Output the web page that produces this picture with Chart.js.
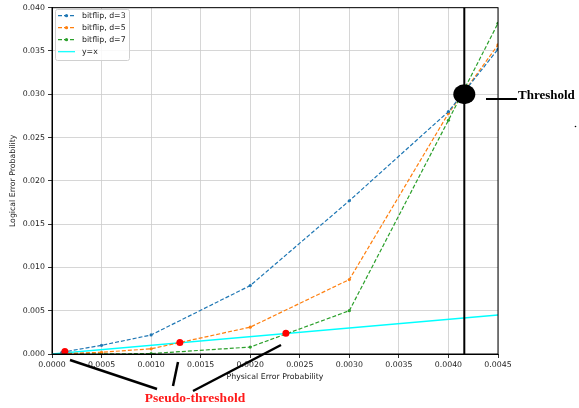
<!DOCTYPE html>
<html>
<head>
<meta charset="utf-8">
<script src="https://cdn.jsdelivr.net/npm/chart.js@4.4.1/dist/chart.umd.min.js"></script>
<style>
  html, body { margin: 0; padding: 0; background: #fff; }
  #wrap { width: 579px; height: 408px; }
</style>
</head>
<body>
<div id="wrap"><canvas id="myChart" width="579" height="408"></canvas></div>
<script>
'use strict';

// chart data

let physicalProbs = [0.0001, 0.0005, 0.001, 0.002, 0.003, 0.004, 0.0045];
let d3Rates = [0.0002, 0.0010, 0.0022, 0.0079, 0.0177, 0.0280, 0.0352];
let d5Rates = [0.00003, 0.0002, 0.0006, 0.0031, 0.0086, 0.0278, 0.0357];
let d7Rates = [0.0, 0.00001, 0.00005, 0.0008, 0.0050, 0.0270, 0.0382];
let identityX = [0, 0.0045];
let seriesNames = ['bitflip, d=3', 'bitflip, d=5', 'bitflip, d=7', 'y=x'];
let seriesColors = ['#1f77b4', '#ff7f0e', '#2ca02c', '#00ffff'];

let pseudoX = [0.00013, 0.00129, 0.00236];
let pseudoY = [0.0003, 0.00134, 0.0024];
let thresholdX = 0.00416;
let thresholdY = 0.0300;

let xTicks = [0, 0.0005, 0.001, 0.0015, 0.002, 0.0025, 0.003, 0.0035, 0.004, 0.0045];
let yTicks = [0, 0.005, 0.01, 0.015, 0.02, 0.025, 0.03, 0.035, 0.04];

let tickFont = { family: 'DejaVu Sans', size: 7.8 };

function toPoints(xs, ys) {
  return xs.map(function (x, i) { return { x: x, y: ys[i] }; });
}

function dashedSeries(i, ys) {
  return {
    label: seriesNames[i],
    data: toPoints(physicalProbs, ys),
    borderColor: seriesColors[i],
    backgroundColor: seriesColors[i],
    borderWidth: 1.2,
    borderDash: [4, 2],
    pointRadius: 1.6,
    pointBorderWidth: 0,
    showLine: true
  };
}

// annotations drawn on top (frame, legend, threshold marks)
let annotations = {
  id: 'annotations',
  afterDraw: function (chart) {
    let ctx = chart.ctx;
    let area = chart.chartArea;
    let xs = chart.scales.x;
    let ys = chart.scales.y;
    ctx.save();

    // frame
    ctx.strokeStyle = '#000';
    ctx.lineWidth = 1;
    ctx.strokeRect(area.left, area.top, area.right - area.left, area.bottom - area.top);

    // legend
    ctx.fillStyle = 'rgba(255,255,255,0.85)';
    ctx.strokeStyle = '#d0d0d0';
    ctx.lineWidth = 1;
    ctx.beginPath();
    ctx.roundRect(55.5, 9.5, 74, 51, 2);
    ctx.fill();
    ctx.stroke();
    ctx.font = '7.8px "DejaVu Sans"';
    ctx.textBaseline = 'middle';
    for (let i = 0; i < seriesNames.length; i++) {
      let ly = 15.7 + i * 12;
      ctx.strokeStyle = seriesColors[i];
      ctx.lineWidth = 1.2;
      ctx.setLineDash(i < 3 ? [4, 2] : []);
      ctx.beginPath();
      ctx.moveTo(58, ly);
      ctx.lineTo(75, ly);
      ctx.stroke();
      ctx.setLineDash([]);
      if (i < 3) {
        ctx.fillStyle = seriesColors[i];
        ctx.beginPath();
        ctx.arc(66.5, ly, 1.6, 0, Math.PI * 2);
        ctx.fill();
      }
      ctx.fillStyle = '#222';
      ctx.fillText(seriesNames[i], 82, ly);
    }

    // threshold
    let tx = xs.getPixelForValue(thresholdX);
    let ty = ys.getPixelForValue(thresholdY);
    ctx.strokeStyle = '#000';
    ctx.lineWidth = 2;
    ctx.beginPath();
    ctx.moveTo(tx, area.top);
    ctx.lineTo(tx, area.bottom);
    ctx.stroke();
    ctx.fillStyle = '#000';
    ctx.beginPath();
    ctx.ellipse(tx, ty, 11, 10, 0, 0, Math.PI * 2);
    ctx.fill();
    ctx.beginPath();
    ctx.moveTo(486, 99);
    ctx.lineTo(517, 99);
    ctx.stroke();
    ctx.font = 'bold 13px "Liberation Serif"';
    ctx.textBaseline = 'middle';
    ctx.fillText('Threshold', 518, 96);
    ctx.beginPath();
    ctx.arc(575.5, 126.5, 0.8, 0, Math.PI * 2);
    ctx.fill();

    // pseudo-threshold pointers
    ctx.lineWidth = 2.5;
    let pointers = [[70, 360, 157, 389], [178, 362, 173, 386], [281, 345, 193, 391]];
    pointers.forEach(function (p) {
      ctx.beginPath();
      ctx.moveTo(p[0], p[1]);
      ctx.lineTo(p[2], p[3]);
      ctx.stroke();
    });
    ctx.fillStyle = '#ff1a1a';
    ctx.font = 'bold 13.5px "Liberation Serif"';
    ctx.textAlign = 'center';
    ctx.fillText('Pseudo-threshold', 195, 399);

    ctx.restore();
  }
};

function renderChart() {
  const ctx = document.getElementById('myChart').getContext('2d');

  new Chart(ctx, {
    type: 'scatter',
    data: {
      datasets: [
        {
          label: 'pseudo',
          data: toPoints(pseudoX, pseudoY),
          backgroundColor: '#ff0000',
          borderWidth: 0,
          pointRadius: 3.5,
          showLine: false
        },
        dashedSeries(0, d3Rates),
        dashedSeries(1, d5Rates),
        dashedSeries(2, d7Rates),
        {
          label: seriesNames[3],
          data: toPoints(identityX, identityX),
          borderColor: seriesColors[3],
          borderWidth: 1.4,
          pointRadius: 0,
          showLine: true
        }
      ]
    },
    options: {
      responsive: false,
      animation: false,
      events: [],
      layout: { padding: { left: 0, right: 81, top: 5, bottom: 22 } },
      plugins: {
        legend: { display: false },
        tooltip: { enabled: false }
      },
      scales: {
        x: {
          type: 'linear',
          min: 0,
          max: 0.0045,
          afterBuildTicks: function (scale) {
            scale.ticks = xTicks.map(function (v) { return { value: v }; });
          },
          afterFit: function (scale) { scale.height = 32; },
          ticks: {
            font: tickFont,
            color: '#222',
            padding: 2,
            maxRotation: 0,
            autoSkip: false,
            callback: function (v) { return v.toFixed(4); }
          },
          grid: { color: '#cccccc', lineWidth: 0.8, tickColor: '#000', tickLength: 4 },
          border: { color: '#000', width: 1 },
          title: {
            display: true,
            text: 'Physical Error Probability',
            font: tickFont,
            color: '#222',
            padding: { top: 4, bottom: 4 }
          }
        },
        y: {
          type: 'linear',
          min: 0,
          max: 0.04,
          afterBuildTicks: function (scale) {
            scale.ticks = yTicks.map(function (v) { return { value: v }; });
          },
          afterFit: function (scale) { scale.width = 52; },
          ticks: {
            font: tickFont,
            color: '#222',
            padding: 3,
            autoSkip: false,
            callback: function (v) { return v.toFixed(3); }
          },
          grid: { color: '#cccccc', lineWidth: 0.8, tickColor: '#000', tickLength: 4 },
          border: { color: '#000', width: 1 },
          title: {
            display: true,
            text: 'Logical Error Probability',
            font: tickFont,
            color: '#222',
            padding: { top: 8, bottom: 4 }
          }
        }
      }
    },
    plugins: [annotations]
  });
}

renderChart();
</script>
</body>
</html>
